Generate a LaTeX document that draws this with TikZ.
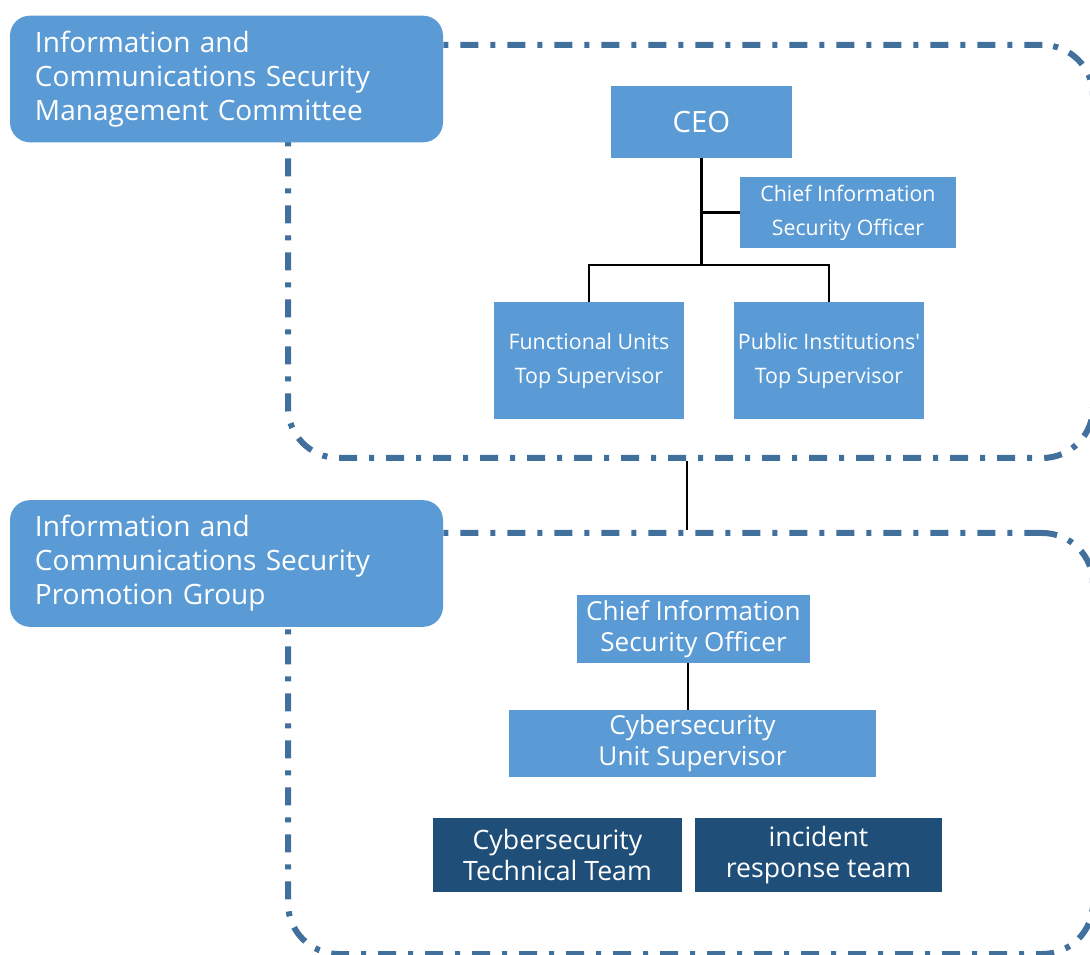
\documentclass[tikz,border=0pt]{standalone}
\usepackage{fontspec}
\setmainfont{Open Sans}
\definecolor{midblue}{HTML}{5B9BD5}
\definecolor{darkblue}{HTML}{1F4E79}
\definecolor{dashcol}{HTML}{41709C}
\begin{document}
\begin{tikzpicture}[x=0.75pt,y=-0.75pt,
  frame/.style={draw=dashcol, line width=4.5pt,
    dash pattern=on 13.5pt off 9pt on 3.75pt off 9pt,
    rounded corners=38pt, inner sep=0pt},
  grouplabel/.style={fill=midblue, rounded corners=15pt, text=white, align=left,
    font=\fontsize{21}{25.5}\selectfont, text width=287.25pt, inner xsep=18.75pt,
    inner ysep=0pt, minimum height=95pt},
  lbox/.style={fill=midblue, text=white, align=center, inner sep=0pt},
  dbox/.style={fill=darkblue, text=white, align=center, inner sep=0pt,
    font=\fontsize{20}{23.5}\selectfont},
  small/.style={font=\fontsize{16}{25.5}\selectfont},
  big/.style={font=\fontsize{19.6}{23.5}\selectfont},
  link/.style={draw=black, line width=2pt}
]
\useasboundingbox (0,0) rectangle (1090,955);
% dashed group frames
\node[frame, minimum width=603.75pt, minimum height=309.75pt] (top) at (690.5,251.5) {};
\node[frame, minimum width=603.75pt, minimum height=315.75pt] (bot) at (690.5,743.5) {};
% group labels
\node[grouplabel] (lab1) at (226.5,79) {Information and\\Communications Security\\Management Committee};
\node[grouplabel] (lab2) at (226.5,563.5) {Information and\\Communications Security\\Promotion Group};
% top org chart
\node[lbox, font=\fontsize{22}{23}\selectfont, minimum width=135.75pt, minimum height=54pt] (ceo) at (701.5,122) {CEO};
\node[lbox, small, minimum width=162pt, minimum height=53.25pt] (ciso1) at (848,212.5) {Chief Information\\Security Officer};
\node[lbox, small, minimum width=142.5pt, minimum height=87.75pt] (funits) at (589,360.5) {Functional Units\\Top Supervisor};
\node[lbox, small, minimum width=142.5pt, minimum height=87.75pt] (pubinst) at (829,360.5) {Public Institutions\textquotesingle\\Top Supervisor};
\coordinate (j) at (701.5,265);
\draw[link] (ceo.south) -- (j);
\draw[link] (ceo.south |- ciso1.west) -- (ciso1.west);
\draw[link] (funits.north) -- (funits.north |- j) -- (pubinst.north |- j) -- (pubinst.north);
% link between groups
\draw[link, line width=1.6pt] (687,0 |- top.south) -- (687,0 |- bot.north);
% bottom org chart
\node[lbox, big, minimum width=174.75pt, minimum height=51pt] (ciso2) at (693.5,629) {Chief Information\\Security Officer};
\node[lbox, big, minimum width=275.25pt, minimum height=50.25pt] (cus) at (692.5,743.5) {Cybersecurity\\Unit Supervisor};
\draw[link] (688,0 |- ciso2.south) -- (688,0 |- cus.north);
\node[dbox, minimum width=186.75pt, minimum height=55.5pt] (ctt) at (557.5,855) {Cybersecurity\\Technical Team};
\node[dbox, minimum width=185.25pt, minimum height=55.5pt] (irt) at (818.5,855) {incident\\response team};
\end{tikzpicture}
\end{document}
